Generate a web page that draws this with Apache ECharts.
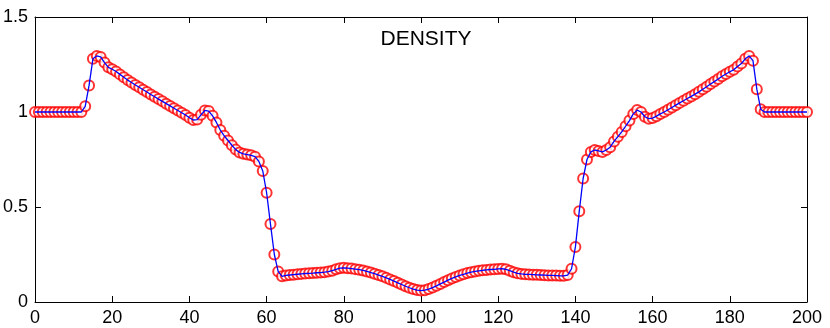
<!DOCTYPE html>
<html>
<head>
<meta charset="utf-8">
<script src="https://cdn.jsdelivr.net/npm/echarts@6/dist/echarts.min.js"></script>
<style>
	html, body {margin: 0; padding: 0; background: #fff;}
	#main {width: 830px; height: 328px;}
</style>
</head>
<body>
<div id="main"></div>
<script>
//x坐标 0..200
var xs = []
for (var i = 0; i <= 200; i++) xs.push(i)

//密度 (每行10个点)
var density = [
	1, 1, 1, 1, 1, 1, 1, 1, 1, 1,
	1, 1, 1, 1.03, 1.14, 1.28, 1.295, 1.29, 1.26, 1.235,
	1.225, 1.213, 1.198, 1.183, 1.168, 1.155, 1.142, 1.13, 1.117, 1.105,
	1.092, 1.08, 1.068, 1.056, 1.044, 1.032, 1.02, 1.008, 0.996, 0.984,
	0.97, 0.958, 0.96, 0.985, 1.008, 1.005, 0.98, 0.945, 0.905, 0.875,
	0.85, 0.825, 0.802, 0.787, 0.78, 0.776, 0.772, 0.765, 0.74, 0.69,
	0.575, 0.41, 0.25, 0.16, 0.135, 0.14, 0.142, 0.144, 0.146, 0.148,
	0.15, 0.151, 0.152, 0.154, 0.155, 0.157, 0.16, 0.165, 0.172, 0.178,
	0.18, 0.178, 0.176, 0.173, 0.17, 0.166, 0.161, 0.155, 0.149, 0.142,
	0.135, 0.127, 0.119, 0.11, 0.101, 0.092, 0.083, 0.075, 0.068, 0.063,
	0.06, 0.062, 0.068, 0.076, 0.085, 0.095, 0.105, 0.115, 0.124, 0.132,
	0.14, 0.146, 0.152, 0.157, 0.161, 0.164, 0.167, 0.169, 0.171, 0.172,
	0.174, 0.175, 0.172, 0.165, 0.157, 0.151, 0.148, 0.146, 0.145, 0.144,
	0.143, 0.142, 0.141, 0.14, 0.14, 0.139, 0.138, 0.138, 0.142, 0.175,
	0.29, 0.478, 0.65, 0.75, 0.79, 0.8, 0.795, 0.79, 0.8, 0.815,
	0.845, 0.87, 0.895, 0.925, 0.955, 0.99, 1.01, 1.0, 0.975, 0.965,
	0.968, 0.978, 0.99, 1.0, 1.012, 1.024, 1.036, 1.048, 1.059, 1.071,
	1.082, 1.094, 1.106, 1.12, 1.133, 1.147, 1.16, 1.174, 1.188, 1.2,
	1.212, 1.222, 1.24, 1.255, 1.28, 1.295, 1.27, 1.12, 1.015, 1,
	1, 1, 1, 1, 1, 1, 1, 1, 1, 1,
	1
]

var xTicks = [0, 20, 40, 60, 80, 100, 120, 140, 160, 180, 200]
var yTicks = [0, 0.5, 1, 1.5]
var title = 'DENSITY'

var font = 'Liberation Sans, Arial, sans-serif'

var points = xs.map(function(x, i) {
	return [x, density[i]]
})

function axisBase(pos, min, max, step, showLabel) {
	return {
		type: 'value',
		position: pos,
		min: min,
		max: max,
		interval: step,
		axisLine: {show: true, onZero: false, lineStyle: {color: '#000', width: 1}},
		axisTick: {show: true, inside: true, length: 6, lineStyle: {color: '#000'}},
		axisLabel: {show: showLabel, color: '#000', fontSize: 18, fontFamily: font, margin: 7},
		splitLine: {show: false}
	}
}

var chart = echarts.init(document.getElementById('main'))
chart.setOption({
	animation: false,
	backgroundColor: '#fff',
	title: {
		text: title,
		left: 421,
		textAlign: 'center',
		top: 24,
		textStyle: {fontSize: 21, fontWeight: 'normal', color: '#000', fontFamily: font}
	},
	grid: {left: 35, right: 23, top: 17, bottom: 26},
	xAxis: [
		axisBase('bottom', xTicks[0], xTicks[xTicks.length - 1], 20, true),
		axisBase('top', xTicks[0], xTicks[xTicks.length - 1], 20, false)
	],
	yAxis: [
		axisBase('left', yTicks[0], yTicks[yTicks.length - 1], 0.5, true),
		axisBase('right', yTicks[0], yTicks[yTicks.length - 1], 0.5, false)
	],
	series: [
		{
			type: 'scatter',
			data: points,
			symbol: 'emptyCircle',
			symbolSize: 10,
			itemStyle: {color: '#ff0000', borderColor: '#ff0000', borderWidth: 1},
			z: 2
		},
		{
			type: 'line',
			data: points,
			showSymbol: false,
			lineStyle: {color: '#0000ff', width: 1.3},
			z: 3
		}
	]
})
</script>
</body>
</html>
